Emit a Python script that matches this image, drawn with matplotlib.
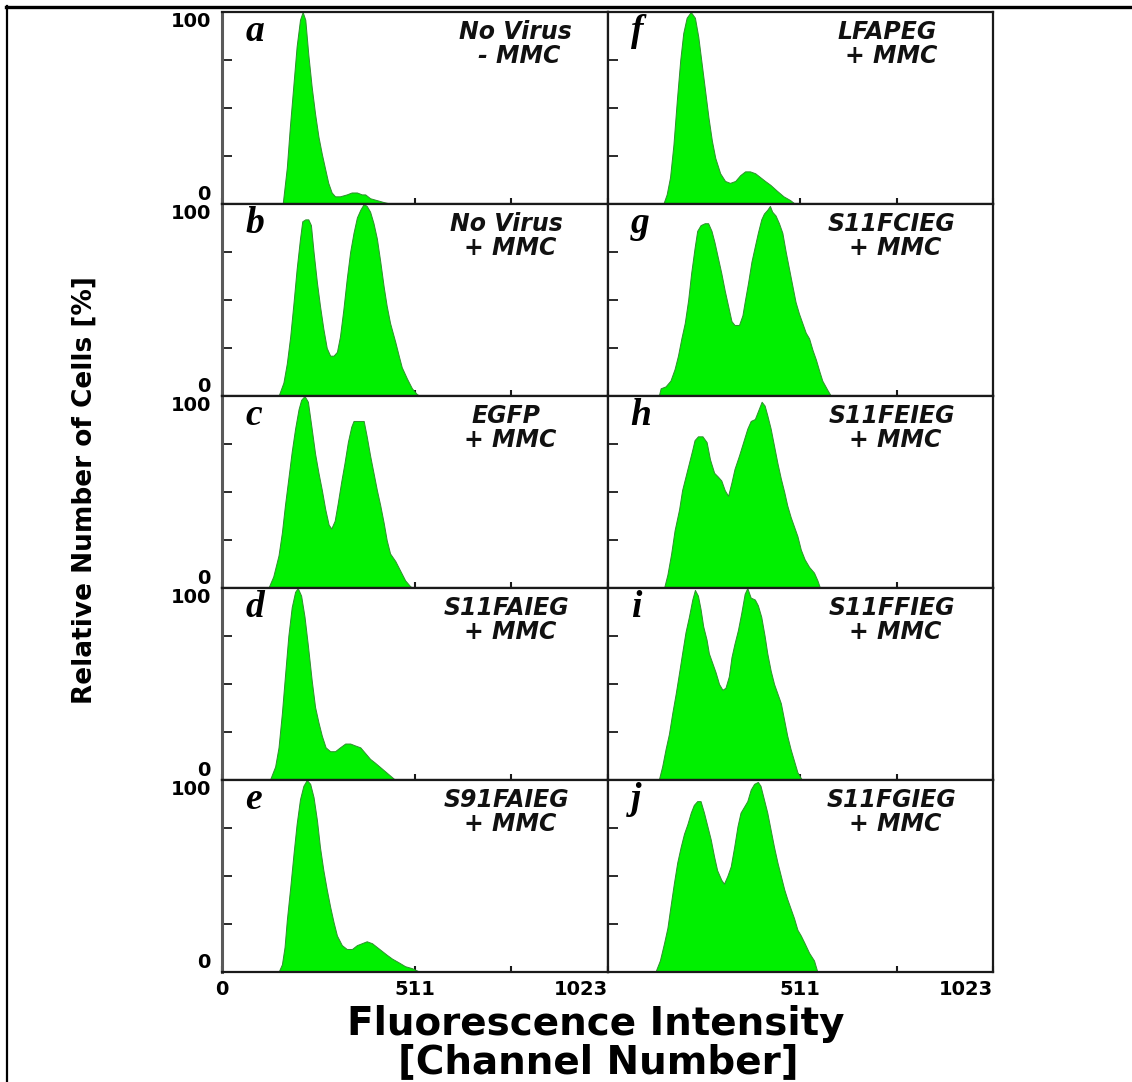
import matplotlib
matplotlib.use("Agg")
import matplotlib.pyplot as plt
from matplotlib.lines import Line2D

# ---------------- data ----------------
panel_letters = ["a", "b", "c", "d", "e", "f", "g", "h", "i", "j"]
label_line1 = ["No Virus", "No Virus", "EGFP", "S11FAIEG", "S91FAIEG",
               "LFAPEG", "S11FCIEG", "S11FEIEG", "S11FFIEG", "S11FGIEG"]
label_line2 = ["- MMC", "+ MMC", "+ MMC", "+ MMC", "+ MMC",
               "+ MMC", "+ MMC", "+ MMC", "+ MMC", "+ MMC"]

ch_a = [161, 172, 180, 189, 198, 207, 214, 221, 229, 238, 247, 256, 265, 274, 282, 291, 300, 313, 331, 344, 358, 371, 380, 393, 411, 429, 451]
pct_a = [0, 19, 40, 61, 82, 96, 100, 96, 78, 61, 47, 35, 26, 18, 11, 6, 4, 4, 5, 6, 6, 5, 5, 3, 2, 1, 0]

ch_b = [150, 163, 172, 181, 190, 198, 207, 213, 221, 229, 236, 243, 252, 260, 269, 278, 287, 296, 305, 313, 322, 331, 340, 349, 358, 367, 376, 384, 393, 402, 411, 420, 429, 437, 446, 460, 469, 477, 491, 504, 517, 526]
pct_b = [0, 7, 17, 31, 49, 66, 82, 91, 92, 92, 89, 75, 59, 47, 35, 25, 21, 21, 23, 31, 45, 61, 75, 85, 93, 97, 100, 99, 96, 90, 82, 70, 57, 47, 38, 28, 21, 15, 9, 4, 1, 0]

ch_c = [123, 136, 150, 159, 167, 176, 185, 194, 203, 210, 219, 228, 238, 247, 256, 265, 274, 283, 290, 299, 307, 316, 325, 334, 343, 349, 376, 384, 393, 402, 411, 420, 429, 437, 446, 460, 473, 486, 499, 506]
pct_c = [0, 6, 17, 29, 43, 57, 71, 83, 93, 98, 100, 97, 83, 70, 60, 51, 41, 33, 31, 35, 44, 55, 65, 76, 84, 87, 87, 79, 69, 60, 51, 43, 34, 25, 18, 14, 9, 4, 1, 0]

ch_d = [127, 141, 150, 159, 167, 176, 185, 194, 201, 210, 219, 228, 238, 247, 256, 265, 275, 287, 300, 313, 327, 340, 353, 367, 380, 393, 406, 424, 442, 460]
pct_d = [0, 7, 17, 35, 54, 75, 90, 98, 100, 96, 85, 70, 52, 38, 30, 23, 17, 15, 15, 17, 19, 19, 18, 17, 14, 11, 9, 6, 3, 0]

ch_e = [150, 159, 166, 172, 181, 190, 198, 207, 216, 225, 234, 243, 252, 260, 269, 278, 287, 296, 305, 318, 331, 345, 358, 371, 384, 398, 411, 424, 437, 451, 469, 486, 504, 526]
pct_e = [0, 4, 13, 27, 44, 62, 77, 90, 97, 100, 98, 91, 79, 65, 53, 43, 34, 26, 19, 14, 12, 12, 14, 15, 16, 15, 13, 11, 9, 7, 5, 3, 2, 0]

ch_f = [148, 157, 166, 175, 184, 193, 201, 210, 221, 232, 241, 250, 259, 268, 277, 286, 299, 312, 325, 339, 352, 365, 378, 392, 405, 418, 432, 449, 467, 485, 498]
pct_f = [0, 5, 14, 31, 54, 75, 89, 97, 100, 97, 87, 73, 59, 45, 33, 24, 16, 12, 11, 12, 15, 17, 17, 16, 14, 12, 10, 7, 4, 2, 0]

ch_g = [136, 141, 154, 167, 178, 187, 196, 205, 214, 222, 231, 238, 247, 258, 267, 276, 284, 293, 302, 311, 320, 329, 337, 349, 358, 364, 373, 382, 391, 399, 408, 415, 424, 431, 437, 446, 455, 464, 473, 482, 491, 499, 508, 517, 526, 535, 544, 553, 562, 570, 584, 593]
pct_g = [0, 4, 5, 8, 14, 21, 30, 38, 50, 64, 77, 86, 89, 90, 90, 86, 80, 72, 64, 55, 47, 39, 37, 37, 42, 49, 59, 70, 78, 85, 92, 95, 97, 99, 96, 94, 90, 85, 75, 66, 57, 49, 43, 38, 33, 30, 24, 19, 13, 8, 3, 0]

ch_h = [150, 159, 169, 178, 190, 198, 207, 216, 225, 231, 240, 252, 263, 272, 283, 293, 302, 311, 320, 329, 337, 349, 360, 371, 380, 391, 399, 409, 417, 424, 433, 442, 451, 460, 469, 477, 486, 495, 504, 513, 523, 535, 548, 557, 564]
pct_h = [0, 7, 18, 30, 41, 51, 58, 65, 72, 77, 79, 79, 76, 67, 60, 58, 56, 51, 48, 55, 62, 69, 76, 83, 87, 88, 92, 97, 95, 90, 83, 74, 65, 57, 50, 43, 37, 32, 27, 20, 15, 11, 8, 4, 0]

ch_i = [136, 145, 154, 163, 172, 181, 190, 198, 207, 216, 225, 232, 240, 247, 254, 263, 269, 278, 287, 296, 305, 313, 322, 329, 337, 346, 355, 364, 371, 380, 391, 399, 408, 417, 424, 433, 442, 451, 460, 469, 477, 486, 495, 504, 513, 517]
pct_i = [0, 7, 16, 24, 35, 45, 56, 66, 77, 85, 94, 99, 96, 89, 80, 73, 66, 61, 56, 50, 47, 48, 54, 64, 71, 78, 87, 97, 100, 95, 94, 91, 85, 75, 66, 57, 50, 45, 40, 31, 23, 16, 10, 4, 1, 0]

ch_j = [127, 139, 150, 159, 167, 176, 185, 194, 203, 212, 221, 229, 238, 247, 256, 265, 274, 283, 291, 302, 309, 318, 327, 336, 345, 353, 362, 371, 380, 389, 399, 406, 415, 424, 433, 442, 451, 460, 469, 477, 486, 495, 504, 513, 523, 535, 548, 557]
pct_j = [0, 6, 15, 23, 34, 46, 57, 65, 72, 77, 83, 87, 89, 89, 83, 76, 69, 60, 53, 48, 46, 50, 55, 65, 76, 83, 86, 89, 95, 98, 99, 97, 90, 83, 74, 65, 57, 50, 43, 38, 33, 28, 22, 19, 15, 10, 6, 0]

channels = [ch_a, ch_b, ch_c, ch_d, ch_e, ch_f, ch_g, ch_h, ch_i, ch_j]
percents = [pct_a, pct_b, pct_c, pct_d, pct_e, pct_f, pct_g, pct_h, pct_i, pct_j]

x_ticks = [0, 256, 511, 767, 1023]
x_ticklabels_left = ["0", "", "511", "", "1023"]
x_ticklabels_right = ["", "", "511", "", "1023"]
y_ticks = [0, 25, 50, 75, 100]
y_ticklabels = ["0", "", "", "", "100"]

# ---------------- figure ----------------
W, H = 1132, 1082
fig = plt.figure(figsize=(W / 100, H / 100), dpi=100)
fig.patch.set_facecolor("white")

SANS = ["DejaVu Sans"]
GREEN = "#00f000"
EDGE = "#2f8f2f"

col_x0 = [222, 607.5]
col_w = 385.5
row_top0 = 12
row_h = 192

label_x = [0.76, 0.737, 0.737, 0.737, 0.737, 0.725, 0.737, 0.737, 0.737, 0.737]

for k in range(10):
    col = k // 5
    row = k % 5
    left = col_x0[col] / W
    top = row_top0 + row * row_h
    bottom = 1 - (top + row_h) / H
    ax = fig.add_axes([left, bottom, col_w / W, row_h / H])
    ax.fill_between(channels[k], percents[k], 0, facecolor=GREEN,
                    edgecolor=EDGE, linewidth=0.7, zorder=2)
    ax.set_xlim(0, 1023)
    ax.set_ylim(0, 100)
    for sp in ax.spines.values():
        sp.set_linewidth(1.6)
        sp.set_color("#1a1a1a")
        sp.set_zorder(5)
    if col == 0:
        ax.spines["left"].set_color("#5a5a5a")
        ax.spines["left"].set_linewidth(2.2)

    ax.set_xticks(x_ticks)
    ax.set_yticks(y_ticks)
    ax.tick_params(axis="x", direction="in", length=4.5, width=1.5,
                   color="#1a1a1a", pad=6)
    ax.tick_params(axis="y", direction="in", length=7.5, width=1.3,
                   color="#1a1a1a", pad=8)
    if row == 4:
        labs = x_ticklabels_left if col == 0 else x_ticklabels_right
        ax.set_xticklabels(labs, fontsize=14, fontweight="bold", family=SANS)
        tl = ax.get_xticklabels()
        tl[4].set_ha("right")
    else:
        ax.set_xticklabels([])
    if col == 0:
        ax.set_yticklabels(y_ticklabels, fontsize=14, fontweight="bold",
                           family=SANS)
        yl = ax.get_yticklabels()
        yl[0].set_va("bottom")
        yl[4].set_va("top")
    else:
        ax.set_yticklabels([])

    # panel letter
    ax.text(0.06, 1 - 29 / row_h, panel_letters[k], transform=ax.transAxes,
            family=["Liberation Serif"], fontstyle="italic", fontweight="bold",
            fontsize=27, va="baseline", ha="left", zorder=6)
    # condition label (two lines)
    ax.text(label_x[k], 1 - 27 / row_h, label_line1[k], transform=ax.transAxes,
            family=SANS, fontstyle="italic", fontweight="bold", fontsize=17,
            va="baseline", ha="center", color="#111111", zorder=6)
    ax.text(label_x[k] + 0.01, 1 - 51 / row_h, label_line2[k],
            transform=ax.transAxes,
            family=SANS, fontstyle="italic", fontweight="bold", fontsize=17,
            va="baseline", ha="center", color="#111111", zorder=6)

# axis titles
fig.text(85 / W, 1 - 490 / H, "Relative Number of Cells [%]", rotation=90,
         ha="center", va="center", fontsize=19, fontweight="bold",
         family=["DejaVu Sans"])
fig.text(596 / W, 1 - 1035 / H, "Fluorescence Intensity", ha="center",
         va="baseline", fontsize=28, fontweight="bold", family=SANS)
fig.text(598 / W, 1 - 1073 / H, "[Channel Number]", ha="center",
         va="baseline", fontsize=28, fontweight="bold", family=SANS)

# outer frame lines (top and left)
fig.add_artist(Line2D([6 / W, 1.0], [1 - 7 / H, 1 - 7 / H],
                      transform=fig.transFigure, color="black", linewidth=2.4))
fig.add_artist(Line2D([7 / W, 7 / W], [1 - 6 / H, 0.0],
                      transform=fig.transFigure, color="black", linewidth=1.6))

fig.savefig("out.png", dpi=100, facecolor="white")
